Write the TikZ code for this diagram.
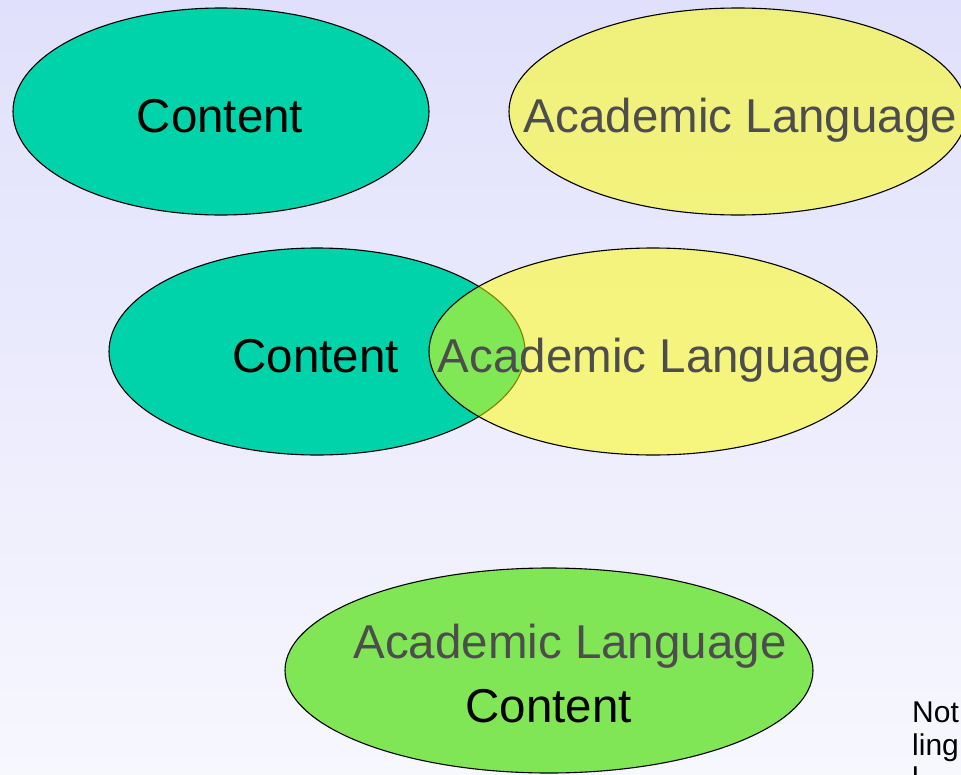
\documentclass[tikz,border=0pt]{standalone}
\usepackage{fontspec}
\setmainfont{Liberation Sans}
\usetikzlibrary{shapes.geometric}
\definecolor{bgtop}{RGB}{224,224,252}
\definecolor{bgbot}{RGB}{247,247,254}
\definecolor{tealc}{RGB}{0,210,170}
\definecolor{yelc}{RGB}{255,255,0}
\definecolor{greenc}{RGB}{128,230,85}
\definecolor{alcol}{RGB}{77,77,77}
\begin{document}
\begin{tikzpicture}[x=1pt,y=-1pt,
  blob/.style={ellipse,draw=black,line width=1.1pt,inner sep=0pt},
  tealblob/.style={blob,fill=tealc},
  yelblob/.style={blob,fill=yelc,fill opacity=0.5},
  greenblob/.style={blob,fill=greenc},
  big/.style={font=\fontsize{47.5}{57}\selectfont,inner sep=0pt,anchor=base},
  conttext/.style={big,text=black},
  altext/.style={big,text=alcol},
  note/.style={font=\fontsize{30}{34}\selectfont,inner sep=0pt,anchor=base west,text=black}]
\useasboundingbox (0,0) rectangle (961,774);
\clip (0,0) rectangle (961,774);
\shade[top color=bgtop,bottom color=bgbot] (0,0) rectangle (961,774);
% top row
\node[tealblob,minimum width=416pt,minimum height=207pt] (c1) at (221,111.5) {};
\node[yelblob,minimum width=458pt,minimum height=207pt] (a1) at (738,111.5) {};
\node[conttext] (tc1) at (220,132) {Content};
\node[altext] (ta1) at (740.5,132) {Academic Language};
% middle row
\node[tealblob,minimum width=416pt,minimum height=207pt] (c2) at (317,351.5) {};
\node[yelblob,minimum width=448pt,minimum height=207pt] (a2) at (653,351.5) {};
\node[conttext] (tc2) at (315.5,372) {Content};
\node[altext] (ta2) at (654.5,372) {Academic Language};
% bottom
\node[greenblob,minimum width=528pt,minimum height=205pt] (g) at (549,670.5) {};
\node[altext] (ta3) at (570,658) {Academic Language};
\node[conttext] (tc3) at (548.5,722) {Content};
% note (cut off at right edge)
\node[note] (nt1) at (912,722) {Not};
\node[note] (nt2) at (912,755) {ling};
\node[note] (nt3) at (912,788) {l};
\end{tikzpicture}
\end{document}
